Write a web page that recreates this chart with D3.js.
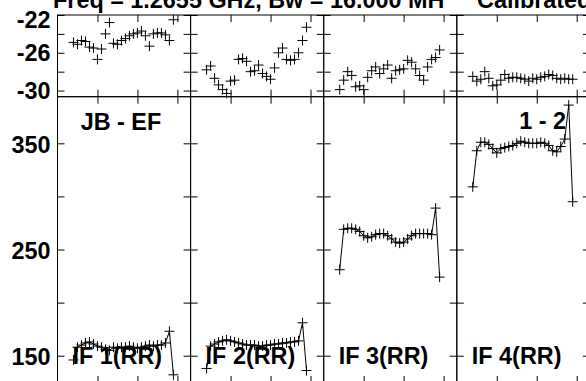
<!DOCTYPE html>
<html>
<head>
<meta charset="utf-8">
<script src="https://cdn.jsdelivr.net/npm/d3@7"></script>
<style>
  body { margin: 0; background: #fff; }
  svg text { font-family: "Liberation Sans", Arial, sans-serif; font-weight: bold; fill: #000; }
</style>
</head>
<body>
<svg id="chart" width="586" height="381"></svg>
<script>
// channels shown in every panel
var channels = d3.range(4, 30);
var ifNames = ["IF 1(RR)", "IF 2(RR)", "IF 3(RR)", "IF 4(RR)"];

// top row: phase (deg)
var phaseIF1 = [-24.9, -25.1, -24.7, -24.8, -25.4, -25.5, -26.7, -25.6, -24.0, -22.8, -25.0, -25.1, -24.7,
                -24.5, -24.2, -24.0, -23.9, -23.7, -24.2, -25.3, -24.0, -23.9, -23.9, -24.1, -24.7, -22.5];
var phaseIF2 = [-27.8, -27.4, -28.7, -29.4, -29.9, -30.3, -29.0, -28.9, -26.7, -26.6, -26.9, -28.0, -27.9,
                -27.3, -28.2, -28.5, -28.8, -27.6, -26.0, -25.5, -26.7, -26.8, -26.7, -26.0, -24.7, -23.3];
var phaseIF3 = [-29.9, -28.9, -28.0, -28.4, -29.6, -29.5, -29.9, -28.6, -27.9, -27.5, -28.2, -27.7, -27.3,
                -28.7, -27.9, -27.8, -27.7, -26.8, -27.0, -27.7, -28.4, -28.9, -27.5, -26.7, -26.5, -25.7];
var phaseIF4 = [-28.5, -29.0, -28.8, -28.0, -28.7, -29.5, -29.4, -28.9, -28.3, -28.7, -28.6, -28.6, -28.7,
                -28.8, -29.0, -28.7, -28.8, -28.6, -28.5, -28.3, -28.4, -28.7, -28.8, -28.7, -28.8, -28.8];

// bottom row: amplitude
var ampIF1 = [146, 158, 160, 162, 163, 161, 159, 158, 156, 155, 158, 157, 158,
              158, 159, 158, 157, 158, 159, 160, 159, 160, 160, 162, 173, 132];
var ampIF2 = [138, 159, 161, 163, 164, 165, 164, 163, 162, 161, 160, 160, 160,
              159, 159, 160, 160, 161, 161, 162, 162, 163, 163, 164, 181, 136];
var ampIF3 = [231, 269, 270, 270, 269, 267, 263, 261, 262, 264, 265, 265, 263,
              260, 257, 256, 257, 260, 263, 265, 265, 265, 265, 264, 289, 224];
var ampIF4 = [309, 343, 351, 351, 349, 345, 341, 345, 346, 347, 348, 350, 352,
              351, 350, 350, 350, 351, 350, 348, 343, 342, 347, 354, 386, 295];

var phaseTicks = [-30, -28, -26, -24, -22];
var phaseLabels = [-30, -26, -22];
var ampTicks = [150, 200, 250, 300, 350];
var ampLabels = [150, 250, 350];
var chanTicks = [10, 20, 30];

var titleText = "Freq = 1.2655 GHz, Bw = 16.000 MH";
var titleRight = "Calibrated";
var baselineName = "JB - EF";
var stokesName = "1 - 2";

var phaseSeries = [phaseIF1, phaseIF2, phaseIF3, phaseIF4];
var ampSeries = [ampIF1, ampIF2, ampIF3, ampIF4];

var left = 57.5, panelW = 133.1;
var topY = 15, midY = 96.7, botY = 383;
var fs = 23.4;

var svg = d3.select("#chart");

var x = d3.scaleLinear().domain([0, 33.3]).range([0, panelW]);
var yPhase = d3.scaleLinear().domain([-30.65, -22]).range([midY - topY, 0]);
var yAmp = d3.scaleLinear().domain([124.3, 393.9]).range([botY - midY, 0]);

var plus = "M-5,0H5M0,-5V5";

function drawPanel(g, h, yScale, yTicks) {
  g.append("rect")
    .attr("width", panelW)
    .attr("height", h)
    .attr("fill", "none")
    .attr("stroke", "#000");
  g.append("g").call(d3.axisLeft(yScale).tickValues(yTicks).tickSize(-7).tickFormat(""));
  g.append("g").attr("transform", "translate(" + panelW + ",0)")
    .call(d3.axisRight(yScale).tickValues(yTicks).tickSize(-7).tickFormat(""));
  g.append("g").call(d3.axisTop(x).tickValues(chanTicks).tickSize(-7).tickFormat(""));
  g.append("g").attr("transform", "translate(0," + h + ")")
    .call(d3.axisBottom(x).tickValues(chanTicks).tickSize(-7).tickFormat(""));
  g.selectAll(".domain").remove();
  g.selectAll(".tick line").attr("stroke", "#000");
}

ifNames.forEach(function (name, i) {
  var px = left + i * panelW;

  // phase panel
  var gp = svg.append("g").attr("transform", "translate(" + px + "," + topY + ")");
  drawPanel(gp, midY - topY, yPhase, phaseTicks);
  gp.selectAll("path.pt")
    .data(phaseSeries[i])
    .enter()
    .append("path")
    .attr("class", "pt")
    .attr("d", plus)
    .attr("stroke", "#000")
    .attr("stroke-width", 1)
    .attr("transform", function (d, k) {
      return "translate(" + x(channels[k]) + "," + yPhase(d) + ")";
    });

  // amplitude panel
  var ga = svg.append("g").attr("transform", "translate(" + px + "," + midY + ")");
  drawPanel(ga, botY - midY, yAmp, ampTicks);
  var line = d3.line()
    .x(function (d, k) { return x(channels[k]); })
    .y(function (d) { return yAmp(d); });
  ga.append("path")
    .datum(ampSeries[i])
    .attr("d", line)
    .attr("fill", "none")
    .attr("stroke", "#000")
    .attr("stroke-width", 1);
  ga.selectAll("path.pt")
    .data(ampSeries[i])
    .enter()
    .append("path")
    .attr("class", "pt")
    .attr("d", plus)
    .attr("stroke", "#000")
    .attr("stroke-width", 1)
    .attr("transform", function (d, k) {
      return "translate(" + x(channels[k]) + "," + yAmp(d) + ")";
    });

  ga.append("text")
    .attr("x", 15)
    .attr("y", 364 - midY)
    .style("font-size", fs + "px")
    .text(name);
});

// y labels
phaseLabels.forEach(function (v) {
  svg.append("text")
    .attr("x", 50.5)
    .attr("y", Math.max(topY + yPhase(v) + 8.5, 28.3))
    .attr("text-anchor", "end")
    .style("font-size", fs + "px")
    .text(v);
});
ampLabels.forEach(function (v) {
  svg.append("text")
    .attr("x", 50.5)
    .attr("y", midY + yAmp(v) + 9.3)
    .attr("text-anchor", "end")
    .style("font-size", fs + "px")
    .text(v);
});

svg.append("text").attr("x", 80.7).attr("y", 130).style("font-size", fs + "px").text(baselineName);
svg.append("text").attr("x", 566).attr("y", 129.3).attr("text-anchor", "end")
  .style("font-size", fs + "px").text(stokesName);

svg.append("text").attr("x", 53).attr("y", 7.5).style("font-size", fs + "px").text(titleText);
svg.append("text").attr("x", 477).attr("y", 7.5).style("font-size", fs + "px").text(titleRight);
</script>
</body>
</html>
